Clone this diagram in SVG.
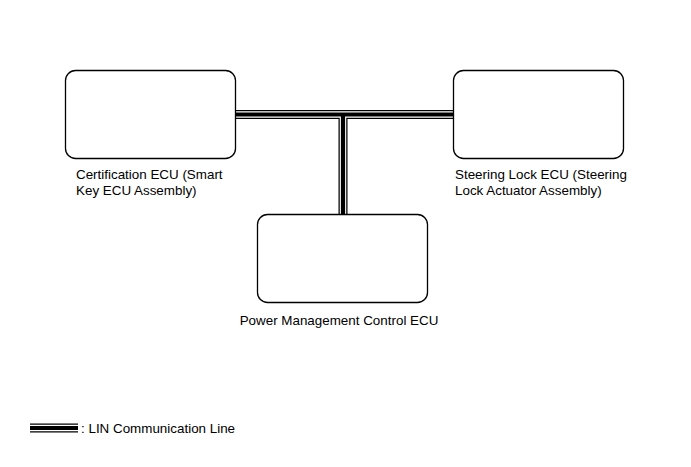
<svg xmlns="http://www.w3.org/2000/svg" width="691" height="467" viewBox="0 0 691 467">
<style>
.box{fill:#fff;stroke:#000;stroke-width:1.3}
.t{font-family:"Liberation Sans",Arial,sans-serif;font-size:13.4px;fill:#000}
.lo{fill:none;stroke:#000;stroke-width:9}
.lw{fill:none;stroke:#fff;stroke-width:6.5}
.li{fill:none;stroke:#000;stroke-width:4.2}
</style>
<rect width="691" height="467" fill="#fff"/>
<g id="connectors">
<path class="lo" d="M236 114.5H453M343 114.5V214"/>
<path class="lw" d="M236 114.5H453M343 114.5V214"/>
<path class="li" d="M236 114.5H453M343 114.5V214"/>
</g>
<g id="cert">
<rect class="box" x="65.5" y="70.5" width="170" height="88" rx="10"/>
<text class="t" x="76" y="179">Certification ECU (Smart</text>
<text class="t" x="76" y="195">Key ECU Assembly)</text>
</g>
<g id="steer">
<rect class="box" x="453.5" y="70.5" width="170" height="88" rx="10"/>
<text class="t" x="455" y="179">Steering Lock ECU (Steering</text>
<text class="t" x="455" y="195">Lock Actuator Assembly)</text>
</g>
<g id="pm">
<rect class="box" x="257.5" y="214.5" width="170" height="88" rx="10"/>
<text class="t" x="339" y="325" text-anchor="middle">Power Management Control ECU</text>
</g>
<g id="legend">
<path class="lo" d="M30 428H78"/>
<path class="lw" d="M30 428H78"/>
<path class="li" d="M30 428H78"/>
<text class="t" x="81" y="433">: LIN Communication Line</text>
</g>
</svg>
